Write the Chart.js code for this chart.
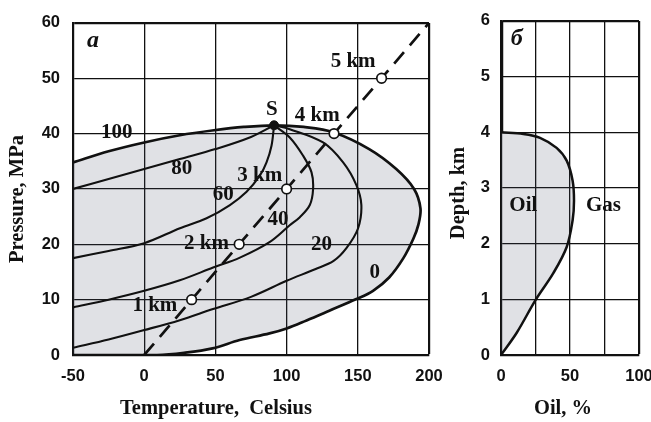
<!DOCTYPE html>
<html>
<head>
<meta charset="utf-8">
<script src="https://cdn.jsdelivr.net/npm/chart.js@4.4.1/dist/chart.umd.min.js"></script>
<style>
  html, body { margin: 0; padding: 0; background: #fff; width: 651px; height: 422px; overflow: hidden; }
  canvas { position: absolute; top: 0; }
  #left { left: 0; }
  #right { left: 440px; }
</style>
</head>
<body>
<canvas id="left" width="460" height="422"></canvas>
<canvas id="right" width="231" height="422"></canvas>
<script>
// ---- panel a: phase diagram, temperature (C) vs pressure (MPa) ----
// phase envelope: from the left edge over point S, round the right side, back along the bottom
const envT = [-50, -25, 0, 25, 49, 70, 91.2, 112, 133.3, 158, 177, 189.5, 194, 192.5, 189, 182, 172, 160.7, 149, 130, 114, 100, 88, 67, 48, 28, 9, -50];
const envP = [34.8, 36.8, 38.4, 39.7, 40.6, 41.2, 41.5, 41.2, 40.2, 37.2, 33.6, 30, 26.5, 23.5, 21, 17.5, 14, 11.6, 10.1, 8, 6.25, 4.8, 3.9, 2.7, 1.2, 0.4, 0, 0];

// lines of equal liquid share, %
const q80T = [-50, -25, 0, 25, 50, 75, 91.2];
const q80P = [30, 31.8, 33.6, 35.4, 37.2, 39.4, 41.5];
const q60T = [-50, -25, 0, 25.1, 43.8, 60.2, 71.9, 81.2, 85.9, 89.4, 91.2];
const q60P = [17.5, 18.8, 20.2, 22.9, 24.7, 27.1, 29.5, 32.4, 34.8, 37.8, 41.5];
const q40T = [-50, -25, 0, 25, 48.4, 67.2, 88, 102, 109.3, 116.3, 118.6, 117.5, 111.6, 102.2, 91.2];
const q40P = [8.6, 10, 11.6, 13.5, 15.8, 17.6, 20.4, 23.4, 24.9, 27.1, 30, 33, 36, 39.3, 41.5];
const q20T = [-50, -25, 0, 25, 48.4, 75, 100, 120, 133, 142, 150.2, 152.5, 149, 139.7, 125.6, 102.2, 91.2];
const q20P = [1.3, 2.8, 4.5, 6.3, 8.3, 10.5, 13.4, 15.5, 17, 19.3, 22.9, 27.1, 30.7, 34.8, 38.4, 40.8, 41.5];

// geothermal line and depth marks
const geoT = [0, 200];
const geoP = [0, 60];
const depthKm = [1, 2, 3, 4, 5];
const depthT = [33.3, 66.7, 100, 133.3, 166.7];
const depthP = [10, 20, 30, 40, 50];
const pointS = { T: 91.2, P: 41.5 };

// labels inside panel a (anchor in data units)
const labelText = ['100', '80', '60', '40', '20', '0', 'S', '1 km', '2 km', '3 km', '4 km', '5 km'];
const labelT = [-19.3, 26.3, 55.5, 94, 124.5, 161.9, 89.6, 7.5, 43.8, 81.2, 121.5, 146.7];
const labelP = [40.2, 33.6, 28.9, 24.4, 19.9, 14.9, 44.3, 8.9, 20.2, 32.4, 43.2, 53];

// ---- panel б: oil share vs depth ----
const oilPct = [0, 11.4, 25.1, 37.9, 47.6, 51.9, 52.9, 51.9, 47.6, 40.3, 28.3, 16.2, 0];
const oilDepth = [0, 0.4, 0.99, 1.47, 1.94, 2.42, 2.77, 3.13, 3.49, 3.72, 3.9, 3.97, 4];
const gasOnlyPct = [0, 0];
const gasOnlyDepth = [4, 6];

const pts = (xs, ys) => xs.map((v, i) => ({ x: v, y: ys[i] }));

const INK = '#111';
const SHADE = 'rgba(70,80,100,0.17)';
const tickFont = { family: 'Liberation Sans, Arial, sans-serif', size: 16.5, weight: 'bold' };
const labelFont = 'bold 21px "Liberation Serif", "Times New Roman", serif';
const titleFont = 'bold 20.5px "Liberation Serif", "Times New Roman", serif';
const letterFont = 'italic bold 24px "Liberation Serif", "Times New Roman", serif';

const textPlugin = {
  id: 'texts',
  afterDatasetsDraw(chart, args, opts) {
    const { ctx } = chart;
    const x = chart.scales.x, y = chart.scales.y;
    ctx.save();
    ctx.fillStyle = INK;
    ctx.textAlign = 'center';
    ctx.textBaseline = 'middle';
    (opts.items || []).forEach(it => {
      ctx.font = it.font;
      ctx.fillText(it.text, x.getPixelForValue(it.x), y.getPixelForValue(it.y));
    });
    (opts.titles || []).forEach(t => {
      ctx.save();
      ctx.font = titleFont;
      ctx.translate(t.px, t.py);
      ctx.rotate(t.rot || 0);
      ctx.fillText(t.text, 0, 0);
      ctx.restore();
    });
    ctx.restore();
  }
};

function gridWidth(maxVal) {
  return ctx => (ctx.tick && ctx.tick.value === maxVal) ? 2.2 : 1.3;
}

function curve(xs, ys, width) {
  return { data: pts(xs, ys), showLine: true, borderColor: INK, borderWidth: width, pointRadius: 0, tension: 0.35, fill: false };
}

// panel a
const leftItems = labelText.map((t, i) => ({ text: t, x: labelT[i], y: labelP[i], font: labelFont }));
leftItems.push({ text: 'a', x: -36, y: 56.7, font: letterFont });

new Chart(document.getElementById('left'), {
  type: 'scatter',
  data: {
    datasets: [
      { data: pts(depthT, depthP), pointRadius: 4.8, pointBackgroundColor: '#fff', pointBorderColor: INK, pointBorderWidth: 1.7 },
      { data: [{ x: pointS.T, y: pointS.P }], pointRadius: 4.5, pointBackgroundColor: INK, pointBorderColor: INK },
      { data: pts(geoT, geoP), showLine: true, borderColor: INK, borderWidth: 2.7, borderDash: [15, 9], pointRadius: 0 },
      curve(q80T, q80P, 2.1),
      curve(q60T, q60P, 2.1),
      curve(q40T, q40P, 2.1),
      curve(q20T, q20P, 2.1),
      Object.assign(curve(envT, envP, 2.7), { fill: 'shape', backgroundColor: SHADE })
    ]
  },
  options: {
    responsive: false,
    animation: false,
    layout: { padding: { top: 19, right: 31, left: 0, bottom: 0 } },
    plugins: {
      legend: { display: false },
      tooltip: { enabled: false },
      texts: {
        items: leftItems,
        titles: [
          { text: 'Temperature,  Celsius', px: 216, py: 409 },
          { text: 'Pressure, MPa', px: 18, py: 199, rot: -Math.PI / 2 }
        ]
      }
    },
    scales: {
      x: {
        type: 'linear', min: -50, max: 200,
        ticks: { stepSize: 50, font: tickFont, color: INK, padding: 12 },
        grid: { color: INK, lineWidth: gridWidth(200), drawTicks: false },
        border: { color: INK, width: 2.2 },
        afterFit(s) { s.height = 67; }
      },
      y: {
        type: 'linear', min: 0, max: 60,
        ticks: { stepSize: 10, font: tickFont, color: INK, padding: 13 },
        grid: { color: INK, lineWidth: gridWidth(60), drawTicks: false },
        border: { color: INK, width: 2.2 },
        afterFit(s) { s.width = 73; }
      }
    }
  },
  plugins: [textPlugin]
});

// panel б
new Chart(document.getElementById('right'), {
  type: 'scatter',
  data: {
    datasets: [
      { data: pts(gasOnlyPct, gasOnlyDepth), showLine: true, borderColor: INK, borderWidth: 4.5, pointRadius: 0 },
      Object.assign(curve(oilPct, oilDepth, 2.5), { fill: 'shape', backgroundColor: SHADE })
    ]
  },
  options: {
    responsive: false,
    animation: false,
    layout: { padding: { top: 19, right: 32, left: 0, bottom: 0 } },
    plugins: {
      legend: { display: false },
      tooltip: { enabled: false },
      texts: {
        items: [
          { text: 'б', x: 11.4, y: 5.67, font: letterFont },
          { text: 'Oil', x: 16.2, y: 2.69, font: labelFont },
          { text: 'Gas', x: 74.2, y: 2.69, font: labelFont }
        ],
        titles: [
          { text: 'Oil, %', px: 123, py: 409 },
          { text: 'Depth, km', px: 19, py: 193, rot: -Math.PI / 2 }
        ]
      }
    },
    scales: {
      x: {
        type: 'linear', min: 0, max: 100,
        ticks: { stepSize: 25, font: tickFont, color: INK, padding: 12, callback: v => (v % 50 === 0 ? v : '') },
        grid: { color: INK, lineWidth: gridWidth(100), drawTicks: false },
        border: { color: INK, width: 2.2 },
        afterFit(s) { s.height = 67; }
      },
      y: {
        type: 'linear', min: 0, max: 6,
        ticks: { stepSize: 1, font: tickFont, color: INK, padding: 11 },
        grid: { color: INK, lineWidth: gridWidth(6), drawTicks: false },
        border: { color: INK, width: 2.2 },
        afterFit(s) { s.width = 61; }
      }
    }
  },
  plugins: [textPlugin]
});
</script>
</body>
</html>
